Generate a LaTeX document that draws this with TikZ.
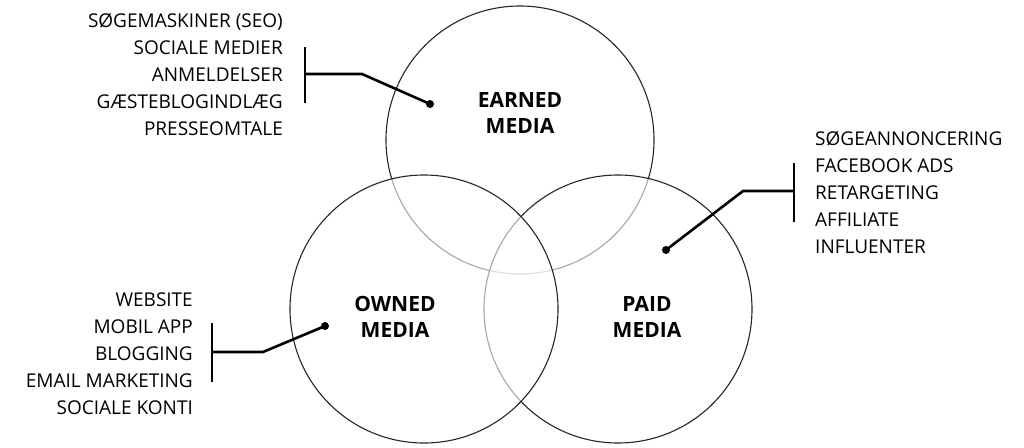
\documentclass[tikz,border=0pt]{standalone}
\usepackage{fontspec}
\setmainfont{Open Sans}
\usetikzlibrary{positioning}

\tikzset{
  ring/.style={draw=black!85, line width=1.1pt, fill=white, fill opacity=0.6},
  medialbl/.style={font=\bfseries\fontsize{21}{26}\selectfont, align=center, inner sep=0pt},
  itemsl/.style={font=\fontsize{19}{27}\selectfont, align=right, inner sep=0pt, anchor=east},
  itemsr/.style={font=\fontsize{19}{27}\selectfont, align=left, inner sep=0pt, anchor=west},
  lead/.style={line width=2.6pt, black},
  dot/.style={circle, fill=black, inner sep=0pt, minimum size=8pt},
}

\begin{document}
\begin{tikzpicture}[x=1pt, y=-1pt]
	\useasboundingbox (0,0) rectangle (1024,447);
	% the three media circles
	\node[ring, circle, minimum size=268pt, inner sep=0pt] (earned) at (520,140) {};
	\node[ring, circle, minimum size=268pt, inner sep=0pt] (paid) at (618,309) {};
	\node[ring, circle, minimum size=268pt, inner sep=0pt] (owned) at (424,309) {};
	\node[medialbl] (earnedlbl) at (520,113) {EARNED\\MEDIA};
	\node[medialbl] (ownedlbl) at (395,317) {OWNED\\MEDIA};
	\node[medialbl] (paidlbl) at (647,317) {PAID\\MEDIA};
	% earned media list
	\node[itemsl] (earnedlist) at (283,75) {SØGEMASKINER (SEO)\\SOCIALE MEDIER\\ANMELDELSER\\GÆSTEBLOGINDLÆG\\PRESSEOMTALE};
	\coordinate (ebtop) at (305,47);
	\coordinate (ebbot) at (305,103);
	\coordinate (ebmid) at (305,74);
	\coordinate (ebknee) at (362,74);
	\node[dot] (edot) at (430,104) {};
	\draw[lead] (ebtop) -- (ebbot);
	\draw[lead] (ebmid) -- (ebknee) -- (edot.center);
	% paid media list
	\node[itemsr] (paidlist) at (815,193) {SØGEANNONCERING\\FACEBOOK ADS\\RETARGETING\\AFFILIATE\\INFLUENTER};
	\coordinate (pbtop) at (794,163);
	\coordinate (pbbot) at (794,222);
	\coordinate (pbmid) at (794,191);
	\coordinate (pbknee) at (743,191);
	\node[dot] (pdot) at (666,250) {};
	\draw[lead] (pbtop) -- (pbbot);
	\draw[lead] (pbmid) -- (pbknee) -- (pdot.center);
	% owned media list
	\node[itemsl] (ownedlist) at (193,354) {WEBSITE\\MOBIL APP\\BLOGGING\\EMAIL MARKETING\\SOCIALE KONTI};
	\coordinate (obtop) at (212,323);
	\coordinate (obbot) at (212,382);
	\coordinate (obmid) at (212,352);
	\coordinate (obknee) at (263,352);
	\node[dot] (odot) at (325,326) {};
	\draw[lead] (obtop) -- (obbot);
	\draw[lead] (obmid) -- (obknee) -- (odot.center);
\end{tikzpicture}
\end{document}
